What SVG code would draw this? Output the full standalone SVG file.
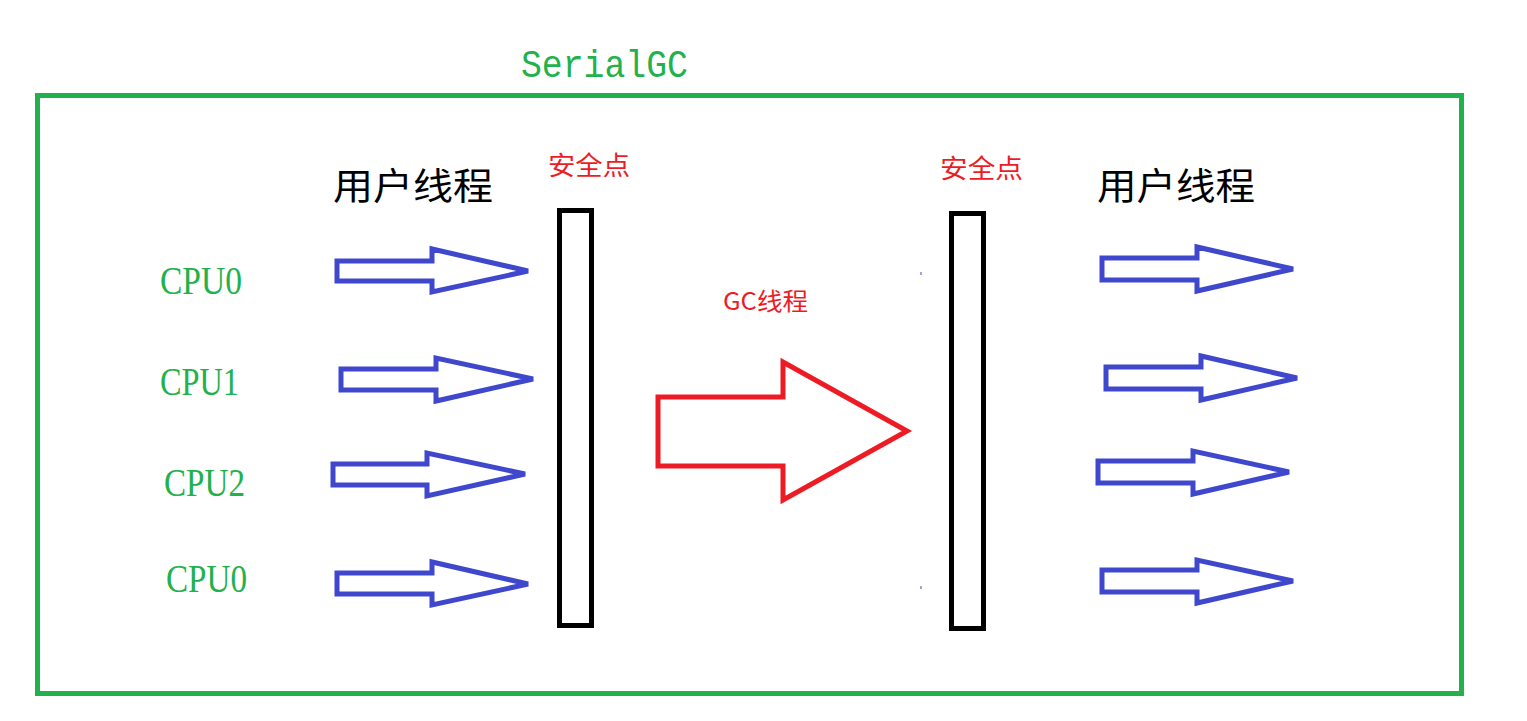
<svg xmlns="http://www.w3.org/2000/svg" width="1527" height="721" viewBox="0 0 1527 721">
<style>
.frame{fill:none;stroke:#22B14C;stroke-width:5}
.bar{fill:none;stroke:#000;stroke-width:5}
.blue{fill:none;stroke:#3F48CC;stroke-width:5;stroke-linejoin:miter}
.red{fill:none;stroke:#ED1C24;stroke-width:5;stroke-linejoin:miter}
.cpu{font-family:"Liberation Serif",serif;font-size:40px;fill:#22B14C}
.title{font-family:"Liberation Mono",monospace;font-size:38px;fill:#22B14C}
.ut{font-family:"Noto Sans CJK SC",sans-serif;font-size:37px;fill:#000}
.sp{font-family:"Noto Sans CJK SC",sans-serif;font-size:26px;fill:#ED1C24}
.gc{font-family:"Noto Sans CJK SC",sans-serif;font-size:24px;fill:#ED1C24}
</style>
<rect width="1527" height="721" fill="#fff"/>
<g id="frame">
<rect class="frame" x="37.5" y="95.5" width="1424" height="598"/>
<text class="title" x="521" y="77" textLength="167" lengthAdjust="spacingAndGlyphs">SerialGC</text>
</g>
<g id="labels-left">
<text class="ut" x="333" y="200" textLength="160" lengthAdjust="spacingAndGlyphs">用户线程</text>
<text class="cpu" x="160" y="294" textLength="82" lengthAdjust="spacingAndGlyphs">CPU0</text>
<text class="cpu" x="160" y="395" textLength="79" lengthAdjust="spacingAndGlyphs">CPU1</text>
<text class="cpu" x="164" y="496" textLength="81" lengthAdjust="spacingAndGlyphs">CPU2</text>
<text class="cpu" x="166" y="592" textLength="81" lengthAdjust="spacingAndGlyphs">CPU0</text>
</g>
<g id="safepoint-left">
<rect class="bar" x="559.5" y="210.5" width="32" height="415"/>
<text class="sp" x="548" y="175" textLength="82" lengthAdjust="spacingAndGlyphs">安全点</text>
</g>
<g id="safepoint-right">
<rect class="bar" x="951.5" y="213.5" width="32" height="415"/>
<text class="sp" x="940" y="178" textLength="83" lengthAdjust="spacingAndGlyphs">安全点</text>
</g>
<g id="gc-thread">
<text class="gc" x="723" y="310" textLength="85" lengthAdjust="spacingAndGlyphs">GC线程</text>
</g>
<g id="labels-right">
<text class="ut" x="1097" y="200" textLength="158" lengthAdjust="spacingAndGlyphs">用户线程</text>
</g>
<g id="connectors">
<polygon class="blue" points="337,261 432,261 432,249 528,271 432,292 432,281 337,281"/>
<polygon class="blue" points="341,369 436,369 436,358 533,379 436,401 436,390 341,390"/>
<polygon class="blue" points="333,464 427,464 427,453 525,474 427,496 427,485 333,485"/>
<polygon class="blue" points="337,573 432,573 432,562 528,584 432,605 432,594 337,594"/>
<polygon class="red" points="658,397 783,397 783,362 907,431 783,500 783,466 658,466"/>
<polygon class="blue" points="1102,258 1197,258 1197,247 1293,269 1197,291 1197,280 1102,280"/>
<polygon class="blue" points="1106,367 1201,367 1201,356 1297,378 1201,400 1201,389 1106,389"/>
<polygon class="blue" points="1098,461 1193,461 1193,451 1289,472 1193,494 1193,483 1098,483"/>
<polygon class="blue" points="1102,570 1197,570 1197,560 1293,581 1197,603 1197,592 1102,592"/>
<rect x="920.5" y="272" width="1" height="3" fill="#3F48CC"/>
<rect x="920.5" y="586" width="1" height="3" fill="#3F48CC"/>
</g>
</svg>
